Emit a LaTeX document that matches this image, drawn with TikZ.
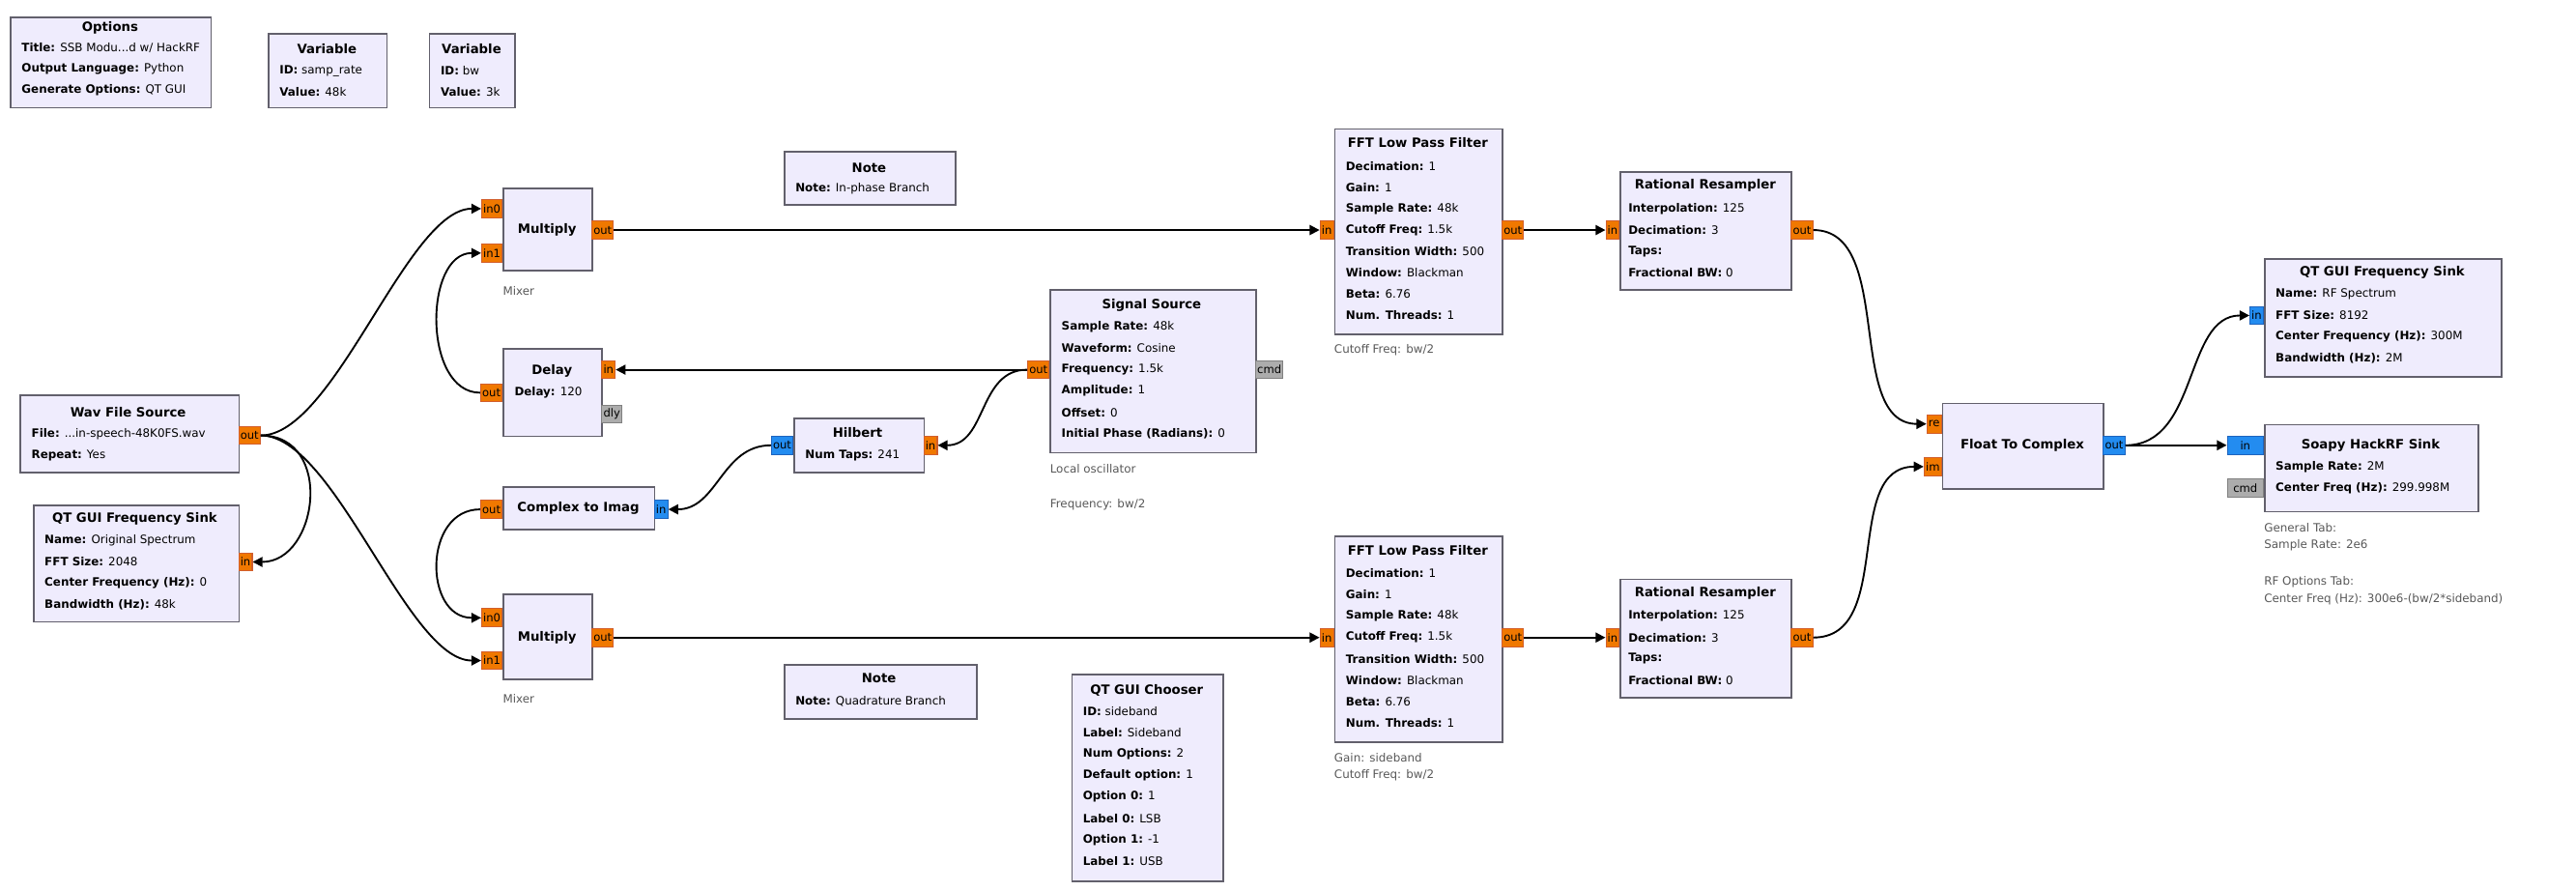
\documentclass[tikz,border=0pt]{standalone}
\usepackage{fontspec}
\setmainfont{DejaVu Sans}
\usetikzlibrary{positioning, arrows.meta}
\definecolor{blockfill}{RGB}{239,236,253}
\definecolor{blockline}{RGB}{98,96,108}
\definecolor{portorange}{RGB}{240,120,0}
\definecolor{portoline}{RGB}{210,95,45}
\definecolor{portblue}{RGB}{35,140,240}
\definecolor{portbline}{RGB}{30,100,190}
\definecolor{portgray}{RGB}{172,172,172}
\definecolor{notegray}{RGB}{88,88,88}

\tikzset{
  block/.style={draw=blockline, fill=blockfill, line width=1pt, anchor=north west, inner sep=0pt},
  port/.style={draw=portoline, fill=portorange, line width=0.6pt, font=\fontsize{6.8}{7}\selectfont, inner sep=1pt, minimum height=11pt},
  cport/.style={port, draw=portbline, fill=portblue},
  mport/.style={port, draw=gray, fill=portgray},
  ttl/.style={font=\fontsize{7.8}{9}\selectfont\bfseries, inner sep=0pt},
  row/.style={font=\fontsize{7}{8}\selectfont, anchor=west, inner sep=0pt},
  cmt/.style={font=\fontsize{7}{8}\selectfont, text=notegray, anchor=west, inner sep=0pt},
  wire/.style={line width=1.1pt, -{Triangle[length=6pt, width=6pt]}}
}
\newcommand{\kv}[2]{\textbf{#1:} #2}
\newcommand{\blk}[5]{\node[block, minimum width=#4pt, minimum height=#5pt] (#1) at (#2,#3) {};}
\newcommand{\rows}[4]{\foreach \t [count=\i] in {#4} {\node[row] (#1-\i) at (#2, {#3+13*\i-13}) {\t};}}

\begin{document}
\begin{tikzpicture}[x=1pt, y=-1pt]
  \useasboundingbox (0,0) rectangle (1568,542);

  % Options and variables
  \blk{opt}{6}{10}{122}{55}
  \node[ttl] (opt-t) at (67,17) {Options};
  \rows{opt}{13}{29}{{\kv{Title}{SSB Modu...d w/ HackRF}}, {\kv{Output Language}{Python}}, {\kv{Generate Options}{QT GUI}}}
  \blk{vsr}{163}{20}{72}{45}
  \node[ttl] (vsr-t) at (199,30) {Variable};
  \rows{vsr}{170}{43}{{\kv{ID}{samp\_rate}}, {\kv{Value}{48k}}}
  \blk{vbw}{261}{20}{52}{45}
  \node[ttl] (vbw-t) at (287,30) {Variable};
  \rows{vbw}{268}{43}{{\kv{ID}{bw}}, {\kv{Value}{3k}}}

  % Source and left sink
  \blk{wav}{12}{240}{133}{47}
  \node[ttl] (wav-t) at (78,251) {Wav File Source};
  \rows{wav}{19}{264}{{\kv{File}{...in-speech-48K0FS.wav}}, {\kv{Repeat}{Yes}}}
  \node[port, anchor=west] (wavout) at (145,265) {out};
  \blk{qtl}{20}{307}{125}{71}
  \node[ttl] (qtl-t) at (82,316) {QT GUI Frequency Sink};
  \rows{qtl}{27}{329}{{\kv{Name}{Original Spectrum}}, {\kv{FFT Size}{2048}}, {\kv{Center Frequency (Hz)}{0}}, {\kv{Bandwidth (Hz)}{48k}}}
  \node[port, anchor=west] (qtlin) at (145,342) {in};

  % In-phase branch
  \blk{mula}{306}{114}{54}{50}
  \node[ttl] (mula-t) at (333,140) {Multiply};
  \node[port, anchor=east] (mulain0) at (306,127) {in0};
  \node[port, anchor=east] (mulain1) at (306,154) {in1};
  \node[port, anchor=west] (mulaout) at (360,140) {out};
  \node[cmt] (mula-c) at (306,177) {Mixer};
  \blk{dly}{306}{212}{60}{53}
  \node[ttl] (dly-t) at (336,226) {Delay};
  \rows{dly}{313}{239}{{\kv{Delay}{120}}}
  \node[port, anchor=west] (dlyin) at (366,225) {in};
  \node[port, anchor=east] (dlyout) at (306,239) {out};
  \node[mport, anchor=west] (dlydly) at (366,252) {dly};
  \blk{nta}{477}{92}{104}{32}
  \node[ttl] (nta-t) at (529,102) {Note};
  \rows{nta}{484}{115}{{\kv{Note}{In-phase Branch}}}

  % Quadrature branch
  \blk{hil}{483}{254}{79}{33}
  \node[ttl] (hil-t) at (522,263) {Hilbert};
  \rows{hil}{490}{277}{{\kv{Num Taps}{241}}}
  \node[cport, anchor=east] (hilout) at (483,271) {out};
  \node[port, anchor=west] (hilin) at (562,271) {in};
  \blk{c2i}{306}{296}{92}{26}
  \node[ttl] (c2i-t) at (352,309) {Complex to Imag};
  \node[port, anchor=east] (c2iout) at (306,310) {out};
  \node[cport, anchor=west] (c2iin) at (398,310) {in};
  \blk{mulb}{306}{361}{54}{52}
  \node[ttl] (mulb-t) at (333,388) {Multiply};
  \node[port, anchor=east] (mulbin0) at (306,376) {in0};
  \node[port, anchor=east] (mulbin1) at (306,402) {in1};
  \node[port, anchor=west] (mulbout) at (360,388) {out};
  \node[cmt] (mulb-c) at (306,425) {Mixer};
  \blk{ntb}{477}{404}{117}{33}
  \node[ttl] (ntb-t) at (535,413) {Note};
  \rows{ntb}{484}{427}{{\kv{Note}{Quadrature Branch}}}

  % Local oscillator and chooser
  \blk{sig}{639}{176}{125}{99}
  \node[ttl] (sig-t) at (701,186) {Signal Source};
  \rows{sig}{646}{199}{{\kv{Sample Rate}{48k}}, {\kv{Waveform}{Cosine}}, {\kv{Frequency}{1.5k}}, {\kv{Amplitude}{1}}, {\kv{Offset}{0}}, {\kv{Initial Phase (Radians)}{0}}}
  \node[port, anchor=east] (sigout) at (639,225) {out};
  \node[mport, anchor=west] (sigcmd) at (764,225) {cmd};
  \node[cmt] (sig-c1) at (639,285) {Local oscillator};
  \node[cmt] (sig-c2) at (639,307) {Frequency: bw/2};
  \blk{chs}{652}{410}{92}{126}
  \node[ttl] (chs-t) at (698,420) {QT GUI Chooser};
  \rows{chs}{659}{433}{{\kv{ID}{sideband}}, {\kv{Label}{Sideband}}, {\kv{Num Options}{2}}, {\kv{Default option}{1}}, {\kv{Option 0}{1}}, {\kv{Label 0}{LSB}}, {\kv{Option 1}{-1}}, {\kv{Label 1}{USB}}}

  % Filters and resamplers
  \foreach \n/\y/\c in {a/78/1, b/326/2} {
    \blk{fft\n}{812}{\y}{102}{125}
    \node[ttl] (fft\n-t) at (863,\y+9) {FFT Low Pass Filter};
    \rows{fft\n}{819}{\y+23}{{\kv{Decimation}{1}}, {\kv{Gain}{1}}, {\kv{Sample Rate}{48k}}, {\kv{Cutoff Freq}{1.5k}}, {\kv{Transition Width}{500}}, {\kv{Window}{Blackman}}, {\kv{Beta}{6.76}}, {\kv{Num. Threads}{1}}}
    \node[port, anchor=east] (fft\n in) at (812,\y+62) {in};
    \node[port, anchor=west] (fft\n out) at (914,\y+62) {out};
    \blk{rr\n}{986}{\y+26}{104}{72}
    \node[ttl] (rr\n-t) at (1038,\y+35) {Rational Resampler};
    \rows{rr\n}{991}{\y+49}{{\kv{Interpolation}{125}}, {\kv{Decimation}{3}}, {\kv{Taps}{}}, {\kv{Fractional BW}{0}}}
    \node[port, anchor=east] (rr\n in) at (986,\y+62) {in};
    \node[port, anchor=west] (rr\n out) at (1090,\y+62) {out};
  }
  \node[cmt] (ffta-c) at (812,213) {Cutoff Freq: bw/2};
  \node[cmt] (fftb-c1) at (812,461) {Gain: sideband};
  \node[cmt] (fftb-c2) at (812,472) {Cutoff Freq: bw/2};

  % Output side
  \blk{f2c}{1182}{245}{98}{52}
  \node[ttl] (f2c-t) at (1231,271) {Float To Complex};
  \node[port, anchor=east] (f2cre) at (1182,258) {re};
  \node[port, anchor=east] (f2cim) at (1182,284) {im};
  \node[cport, anchor=west] (f2cout) at (1280,271) {out};
  \blk{qtr}{1378}{157}{144}{72}
  \node[ttl] (qtr-t) at (1450,166) {QT GUI Frequency Sink};
  \rows{qtr}{1385}{179}{{\kv{Name}{RF Spectrum}}, {\kv{FFT Size}{8192}}, {\kv{Center Frequency (Hz)}{300M}}, {\kv{Bandwidth (Hz)}{2M}}}
  \node[cport, anchor=east] (qtrin) at (1378,192) {in};
  \blk{sdr}{1378}{258}{130}{53}
  \node[ttl] (sdr-t) at (1443,271) {Soapy HackRF Sink};
  \rows{sdr}{1385}{284}{{\kv{Sample Rate}{2M}}, {\kv{Center Freq (Hz)}{299.998M}}}
  \node[cport, anchor=east, minimum width=22pt] (sdrin) at (1378,271) {in};
  \node[mport, anchor=east, minimum width=22pt] (sdrcmd) at (1378,297) {cmd};
  \node[cmt] (sdr-c1) at (1378,321) {General Tab:};
  \node[cmt] (sdr-c2) at (1378,332) {Sample Rate: 2e6};
  \node[cmt] (sdr-c3) at (1378,354) {RF Options Tab:};
  \node[cmt] (sdr-c4) at (1378,365) {Center Freq (Hz): 300e6-(bw/2*sideband)};

  % Connections
  \draw[wire] (wavout.east) .. controls +(45,0) and +(-45,0) .. (mulain0.west);
  \draw[wire] (wavout.east) .. controls +(45,0) and +(-45,0) .. (mulbin1.west);
  \draw[wire] (wavout.east) .. controls +(45,0) and +(40,0) .. (qtlin.east);
  \draw[wire] (dlyout.west) .. controls +(-35,0) and +(-35,0) .. (mulain1.west);
  \draw[wire] (sigout.west) -- (dlyin.east);
  \draw[wire] (sigout.west) .. controls +(-30,0) and +(30,0) .. (hilin.east);
  \draw[wire] (hilout.west) .. controls +(-30,0) and +(30,0) .. (c2iin.east);
  \draw[wire] (c2iout.west) .. controls +(-35,0) and +(-35,0) .. (mulbin0.west);
  \draw[wire] (mulaout.east) -- (fftain.west);
  \draw[wire] (mulbout.east) -- (fftbin.west);
  \draw[wire] (fftaout.east) -- (rrain.west);
  \draw[wire] (fftbout.east) -- (rrbin.west);
  \draw[wire] (rraout.east) .. controls +(50,0) and +(-50,0) .. (f2cre.west);
  \draw[wire] (rrbout.east) .. controls +(50,0) and +(-50,0) .. (f2cim.west);
  \draw[wire] (f2cout.east) .. controls +(45,0) and +(-40,0) .. (qtrin.west);
  \draw[wire] (f2cout.east) -- (sdrin.west);
\end{tikzpicture}
\end{document}
